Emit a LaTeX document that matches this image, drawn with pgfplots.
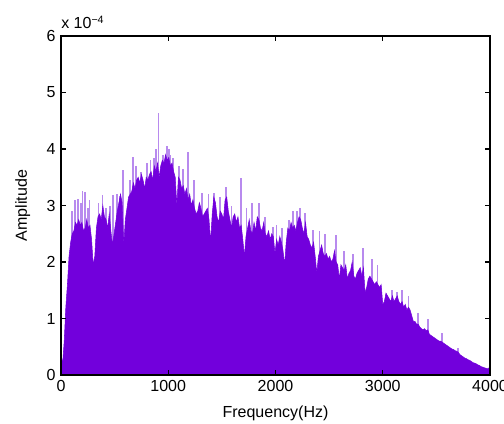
\documentclass[border=0pt]{standalone}
\usepackage{pgfplots}
\pgfplotsset{compat=1.18}
\usepackage{fontspec}
\setmainfont{Liberation Sans}
\definecolor{purp}{HTML}{7200DC}
\definecolor{lpurp}{HTML}{B88AEE}
\begin{document}
\fontsize{12}{14}\selectfont
\begin{tikzpicture}
\begin{axis}[
  scale only axis,
  width=321.75pt, height=254.25pt,
  xmin=0, xmax=4000, ymin=0, ymax=6,
  xtick={0,1000,2000,3000,4000},
  ytick={0,1,2,3,4,5,6},
  tick pos=both,
  tick align=inside,
  major tick length=4pt,
  axis line style={line width=1.1pt},
  every tick/.style={line width=1.1pt, black},
  /pgf/number format/assume math mode=true,
  /pgf/number format/1000 sep={},
  tick label style={font=\fontsize{12}{14}\selectfont},
  label style={font=\fontsize{12}{14}\selectfont},
  xlabel={Frequency(Hz)},
  ylabel={Amplitude},
  xlabel style={yshift=-2pt},
  ylabel style={yshift=4pt},
  clip=true,
  axis on top,
]
\addplot[ycomb, lpurp, line width=1.3pt, mark=none] coordinates {
(3,0.8)(105,2.9)(130,3.1)(160,3.12)(185,3.05)(200,3.26)(225,3.24)(250,2.95)(265,3.1)(350,3.05)(388,3.19)(420,2.95)(455,3.0)(488,3.19)(520,3.2)(550,3.16)(578,3.62)(640,3.45)(671,3.86)(700,3.7)(746,3.6)(800,3.75)(835,3.8)(870,3.84)(885,4.0)(908,4.64)(948,3.89)(985,4.05)(1005,4.0)(1020,3.9)(1045,3.84)(1100,3.7)(1135,3.65)(1181,3.95)(1240,3.45)(1312,3.22)(1375,3.2)(1427,3.22)(1480,3.15)(1539,3.32)(1590,3.0)(1675,3.48)(1730,2.95)(1780,3.05)(1846,3.04)(1902,2.8)(1980,2.62)(2010,2.65)(2060,2.6)(2129,2.74)(2160,2.9)(2197,2.9)(2228,2.95)(2275,2.87)(2350,2.57)(2410,2.55)(2460,2.5)(2561,2.48)(2640,2.2)(2720,2.15)(2819,2.24)(2900,2.05)(2950,1.95)(3083,1.5)(3130,1.47)(3180,1.5)(3240,1.4)(3330,1.1)(3425,1.0)(3550,0.75)(3700,0.47)
};
\addplot[fill=purp, draw=purp, line width=0.4pt, mark=none] coordinates {
(0,0)(5,0.3)(15,0.2)(30,0.6)(45,1.2)(60,1.6)(75,2.1)(90,2.35)(105,2.5)(120,2.55)(135,2.7)(150,2.65)(165,2.75)(180,2.65)(195,2.7)(210,2.55)(225,2.6)(240,2.75)(255,2.6)(270,2.65)(285,2.4)(300,1.95)(315,2.1)(330,2.6)(345,2.8)(360,2.85)(375,2.75)(390,3.0)(405,2.8)(420,2.75)(435,2.6)(450,2.85)(465,2.55)(480,2.3)(495,2.5)(510,2.7)(525,2.9)(540,3.05)(555,3.2)(570,3.05)(585,2.3)(600,2.75)(615,2.95)(630,3.15)(645,3.2)(660,3.25)(675,3.4)(690,3.3)(705,3.45)(720,3.5)(735,3.4)(750,3.55)(765,3.45)(780,3.3)(795,3.5)(810,3.45)(825,3.55)(840,3.6)(855,3.45)(870,3.7)(885,3.6)(900,3.75)(915,3.5)(930,3.7)(945,3.8)(960,3.75)(975,3.9)(990,3.8)(1005,3.85)(1020,3.7)(1035,3.75)(1050,3.6)(1065,3.5)(1080,3.0)(1095,3.5)(1110,3.45)(1125,3.3)(1140,3.35)(1155,3.2)(1170,3.3)(1185,3.1)(1200,3.2)(1215,3.0)(1230,3.1)(1245,2.95)(1260,2.85)(1275,2.9)(1290,3.05)(1305,2.95)(1320,2.8)(1335,2.85)(1350,2.9)(1365,2.95)(1380,2.75)(1395,2.35)(1410,2.85)(1425,3.15)(1440,3.05)(1455,2.8)(1470,2.7)(1485,2.9)(1500,2.85)(1515,2.75)(1530,3.1)(1545,3.15)(1560,2.9)(1575,2.75)(1590,2.6)(1605,2.8)(1620,2.85)(1635,2.7)(1650,2.8)(1665,2.6)(1680,2.65)(1695,2.4)(1710,2.1)(1725,2.45)(1740,2.6)(1755,2.75)(1770,2.55)(1785,2.5)(1800,2.7)(1815,2.55)(1830,2.8)(1845,2.75)(1860,2.6)(1875,2.55)(1890,2.7)(1905,2.5)(1920,2.45)(1935,2.55)(1950,2.4)(1965,2.5)(1980,2.45)(1995,2.15)(2010,2.4)(2025,2.3)(2040,2.45)(2055,2.35)(2070,2.2)(2085,1.95)(2100,2.35)(2115,2.6)(2130,2.55)(2145,2.7)(2160,2.6)(2175,2.65)(2190,2.55)(2205,2.7)(2220,2.8)(2235,2.75)(2250,2.6)(2265,2.5)(2280,2.7)(2295,2.45)(2310,2.4)(2325,2.3)(2340,2.25)(2355,2.35)(2370,2.1)(2385,1.8)(2400,2.1)(2415,2.2)(2430,2.3)(2445,2.15)(2460,2.1)(2475,2.15)(2490,2.05)(2505,2.1)(2520,2.0)(2535,2.05)(2550,2.2)(2565,2.0)(2580,1.95)(2595,1.7)(2610,1.95)(2625,1.9)(2640,1.85)(2655,1.95)(2670,1.7)(2685,1.8)(2700,1.85)(2715,2.0)(2730,1.75)(2745,1.7)(2760,1.8)(2775,1.85)(2790,1.9)(2805,1.75)(2820,1.9)(2835,1.45)(2850,1.55)(2865,1.7)(2880,1.75)(2895,1.7)(2910,1.65)(2925,1.6)(2940,1.65)(2955,1.6)(2970,1.55)(2985,1.6)(3000,1.25)(3015,1.3)(3030,1.45)(3045,1.4)(3060,1.35)(3075,1.3)(3090,1.4)(3105,1.3)(3120,1.35)(3135,1.4)(3150,1.3)(3165,1.25)(3180,1.3)(3195,1.2)(3210,1.25)(3225,1.15)(3240,1.2)(3255,1.15)(3270,1.05)(3285,0.95)(3300,0.95)(3315,0.9)(3330,0.9)(3345,0.85)(3360,0.82)(3375,0.8)(3390,0.82)(3405,0.78)(3420,0.8)(3435,0.72)(3450,0.7)(3465,0.68)(3480,0.66)(3495,0.64)(3510,0.62)(3525,0.6)(3540,0.6)(3555,0.58)(3570,0.56)(3585,0.54)(3600,0.52)(3615,0.5)(3630,0.48)(3645,0.46)(3660,0.45)(3675,0.43)(3690,0.42)(3705,0.4)(3720,0.36)(3735,0.34)(3750,0.32)(3765,0.3)(3780,0.29)(3795,0.27)(3810,0.26)(3825,0.24)(3840,0.22)(3855,0.21)(3870,0.2)(3885,0.18)(3900,0.17)(3915,0.15)(3930,0.14)(3945,0.13)(3960,0.12)(3975,0.11)(3990,0.12)(4000,0.2)(4000,0)
} \closedcycle;
\end{axis}
\node[anchor=south west, inner sep=0pt, font=\fontsize{12}{14}\selectfont] at ([yshift=5pt]current axis.north west) {x 10\textsuperscript{−4}};
\pgfresetboundingbox
\useasboundingbox ([xshift=-45.75pt,yshift=-36pt]current axis.south west) rectangle ([xshift=10.5pt,yshift=27pt]current axis.north east);
\end{tikzpicture}
\end{document}
